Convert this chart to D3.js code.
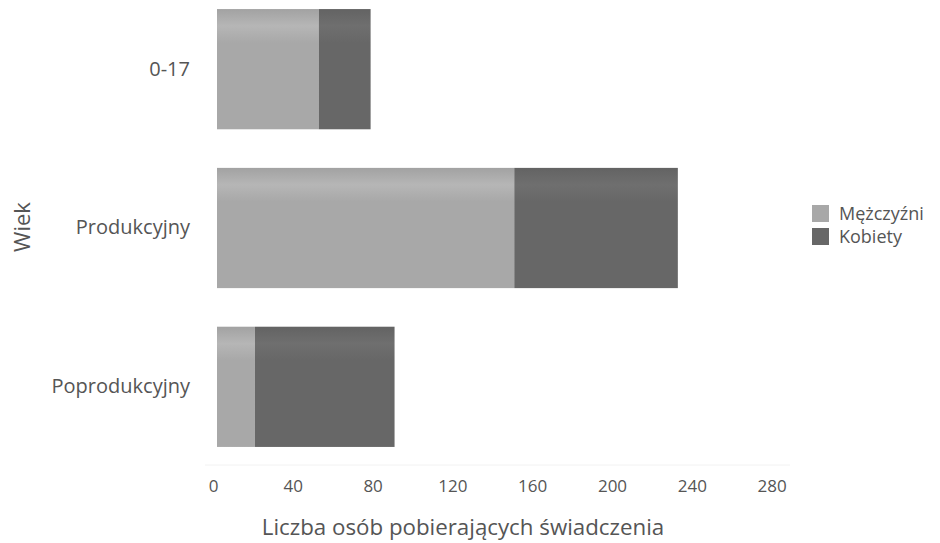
<!DOCTYPE html>
<html>
<head>
<meta charset="utf-8">
<script src="https://cdn.jsdelivr.net/npm/d3@7"></script>
<style>
  html, body { margin: 0; padding: 0; background: #fff; }
  svg { display: block; font-family: "Open Sans", "Noto Sans", sans-serif; }
</style>
</head>
<body>
<svg id="chart" width="940" height="543"></svg>
<script>
const categories = ["0-17", "Produkcyjny", "Poprodukcyjny"];
const seriesNames = ["Mężczyźni", "Kobiety"];
const men = [51, 149, 19];
const women = [26, 82, 70];
const xTicks = [0, 40, 80, 120, 160, 200, 240, 280];
const xTitle = "Liczba osób pobierających świadczenia";
const yTitle = "Wiek";
const colors = ["#a8a8a8", "#676767"];

const svg = d3.select("#chart");
const x0 = 217, pxPerUnit = 1.995;
const x = d3.scaleLinear().domain([0, 280]).range([x0, x0 + 280 * pxPerUnit]);
const y = d3.scaleBand().domain(categories).range([-10, 466]).paddingInner(0.243).paddingOuter(0.12);

const rows = categories.map((c, i) => ({ cat: c, Mężczyźni: men[i], Kobiety: women[i] }));
const stacked = d3.stack().keys(seriesNames)(rows);

// subtle vertical gradient to mimic the scanned shading
const defs = svg.append("defs");
seriesNames.forEach((s, i) => {
  const g = defs.append("linearGradient").attr("id", "g" + i).attr("x1", 0).attr("x2", 0).attr("y1", 0).attr("y2", 1);
  const base = d3.color(colors[i]);
  g.append("stop").attr("offset", "0%").attr("stop-color", base.darker(0.1));
  g.append("stop").attr("offset", "14%").attr("stop-color", base.brighter(0.22));
  g.append("stop").attr("offset", "28%").attr("stop-color", base);
  g.append("stop").attr("offset", "100%").attr("stop-color", base);
});

svg.append("g").selectAll("g").data(stacked).join("g")
  .attr("fill", (d, i) => "url(#g" + i + ")")
  .selectAll("rect").data(d => d).join("rect")
  .attr("x", d => x(d[0]))
  .attr("width", d => x(d[1]) - x(d[0]))
  .attr("y", d => y(d.data.cat))
  .attr("height", y.bandwidth());

// faint baseline
svg.append("line").attr("x1", 205).attr("x2", 790).attr("y1", 465).attr("y2", 465)
  .attr("stroke", "#f2f2f2").attr("stroke-width", 1);

// x axis
const xAxis = svg.append("g").attr("transform", "translate(-4,472)")
  .call(d3.axisBottom(x).tickValues(xTicks).tickSize(0).tickPadding(0));
xAxis.select(".domain").remove();
xAxis.selectAll("text").attr("dy", "0.71em").attr("y", 8)
  .attr("fill", "#555").style("font-size", "17px").style("font-family", "'Open Sans', sans-serif");

// y axis
const yAxis = svg.append("g").attr("transform", "translate(190,0)")
  .call(d3.axisLeft(y).tickSize(0).tickPadding(0));
yAxis.select(".domain").remove();
yAxis.selectAll("text").attr("fill", "#555").style("font-size", "20px")
  .style("font-family", "'Open Sans', sans-serif");

// titles
svg.append("text").attr("x", 463).attr("y", 535).attr("text-anchor", "middle")
  .attr("fill", "#555").style("font-size", "22.3px").text(xTitle);
svg.append("text").attr("transform", "translate(30,227) rotate(-90)").attr("text-anchor", "middle")
  .attr("fill", "#555").style("font-size", "22px").text(yTitle);

// legend
const leg = svg.append("g").attr("transform", "translate(812,205)");
seriesNames.forEach((s, i) => {
  const g = leg.append("g").attr("transform", `translate(0,${i * 23})`);
  g.append("rect").attr("width", 17).attr("height", 17).attr("fill", colors[i]);
  g.append("text").attr("x", 27).attr("y", 8.5).attr("dy", "0.35em")
    .attr("fill", "#555").style("font-size", "18px").text(s);
});
</script>
</body>
</html>
